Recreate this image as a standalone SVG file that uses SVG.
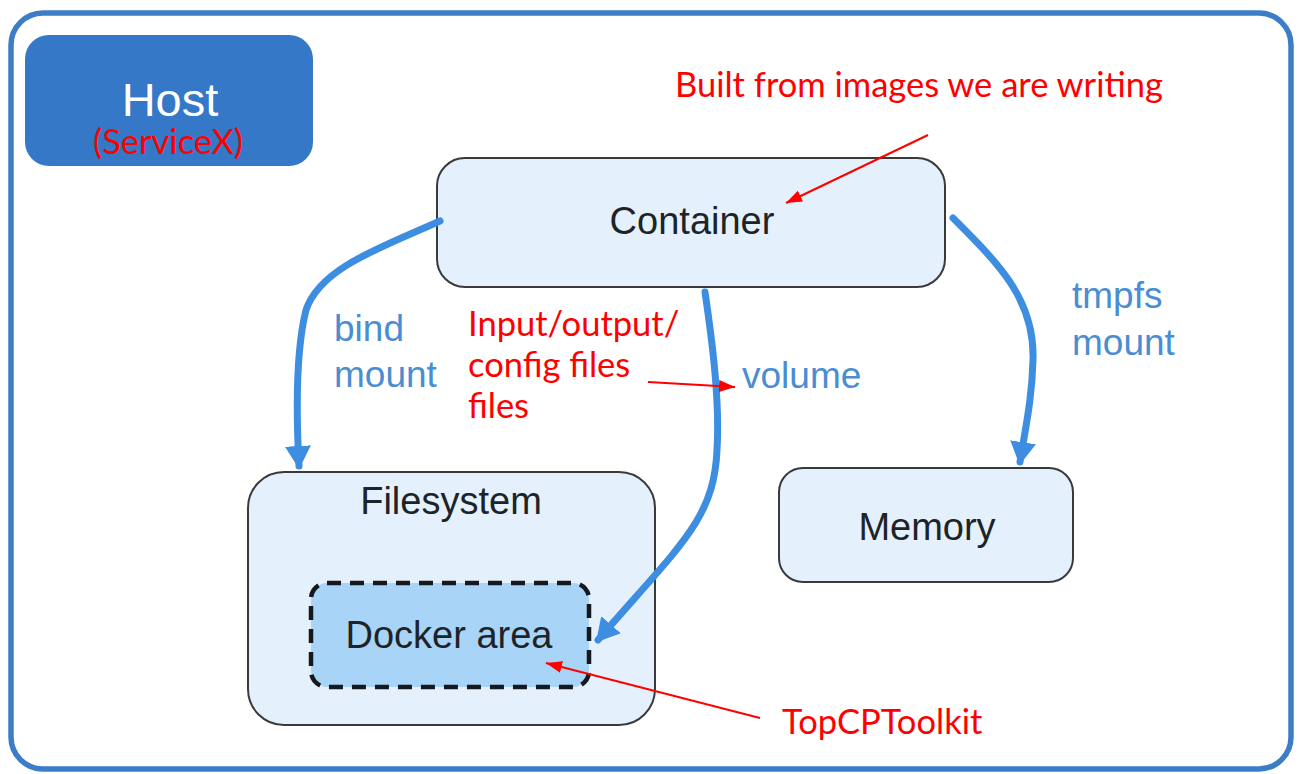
<svg xmlns="http://www.w3.org/2000/svg" width="1300" height="774" viewBox="0 0 1300 774">
  <style>
    .node { fill: #e4f1fc; stroke: #3a3a3a; stroke-width: 2; }
    .label { font-family: "Liberation Sans", Arial, sans-serif; font-size: 38px; fill: #1e2328; text-anchor: middle; }
    .mount { font-family: "Liberation Sans", Arial, sans-serif; font-size: 37px; fill: #4a8dd3; }
    .note { font-family: Lato, "Liberation Sans", sans-serif; font-size: 34.5px; fill: #ff0000; }
    .flow { fill: none; stroke: #3d8de0; stroke-width: 7; stroke-linecap: round; }
    .pointer { fill: none; stroke: #ff0000; stroke-width: 2; }
  </style>
  <defs>
    <marker id="blueHead" markerUnits="userSpaceOnUse" markerWidth="30" markerHeight="30" refX="20" refY="13" orient="auto">
      <path d="M0,0 L23,13 L0,26 Z" fill="#3d8de0"/>
    </marker>
    <marker id="redHead" markerUnits="userSpaceOnUse" markerWidth="18" markerHeight="14" refX="16" refY="6" orient="auto">
      <path d="M0,0 L16,6 L0,12 Z" fill="#ff0000"/>
    </marker>
  </defs>

  <rect width="1300" height="774" fill="#ffffff"/>

  <!-- host frame -->
  <g id="host-frame">
    <rect x="11" y="13" width="1280" height="756" rx="32" fill="#ffffff" stroke="#3c7dc8" stroke-width="5.5"/>
  </g>

  <!-- host badge -->
  <g id="host">
    <rect x="25" y="35" width="288" height="131" rx="24" fill="#3478c7"/>
    <text x="170" y="116" font-family="'Liberation Sans', Arial, sans-serif" font-size="47" fill="#ffffff" text-anchor="middle">Host</text>
    <text x="168" y="154" class="note" font-size="32" text-anchor="middle">(ServiceX)</text>
  </g>

  <g id="container">
    <rect x="437" y="158" width="508" height="129" rx="28" class="node"/>
    <text x="692" y="234" class="label">Container</text>
  </g>

  <g id="filesystem">
    <rect x="248" y="472" width="407" height="253" rx="36" class="node" fill="#e8f3fc"/>
    <text x="451" y="514" class="label">Filesystem</text>
  </g>

  <g id="docker-area">
    <rect x="311" y="583" width="278" height="104" rx="16" fill="#a8d4f7" stroke="#15191e" stroke-width="4.5" stroke-dasharray="14 9"/>
    <text x="449" y="648" class="label">Docker area</text>
  </g>

  <g id="memory">
    <rect x="779" y="468" width="294" height="114" rx="24" class="node"/>
    <text x="927" y="540" class="label">Memory</text>
  </g>

  <!-- mount connectors -->
  <g id="connectors">
    <path class="flow" d="M440,221 C380,248 320,268 306,310 C296,350 296,410 299,466" marker-end="url(#blueHead)"/>
    <path class="flow" d="M705,292 C712,340 720,400 717,450 C714,520 680,545 598,640" marker-end="url(#blueHead)"/>
    <path class="flow" d="M953,218 C1000,265 1035,300 1033,360 C1032,400 1025,430 1020,462" marker-end="url(#blueHead)"/>
    <text x="334" y="341" class="mount">bind</text>
    <text x="334" y="387" class="mount">mount</text>
    <text x="742" y="388" class="mount">volume</text>
    <text x="1072" y="308" class="mount">tmpfs</text>
    <text x="1072" y="355" class="mount">mount</text>
  </g>

  <!-- annotations -->
  <g id="notes">
    <text x="675" y="97" class="note">Built from images we are writing</text>
    <line x1="928" y1="135" x2="786" y2="203" class="pointer" marker-end="url(#redHead)"/>
    <text x="468" y="336" class="note">Input/output/</text>
    <text x="468" y="377" class="note">config files</text>
    <text x="468" y="418" class="note">files</text>
    <line x1="648" y1="382" x2="735" y2="387" class="pointer" marker-end="url(#redHead)"/>
    <text x="782" y="734" class="note">TopCPToolkit</text>
    <line x1="760" y1="718" x2="546" y2="663" class="pointer" marker-end="url(#redHead)"/>
  </g>
</svg>
